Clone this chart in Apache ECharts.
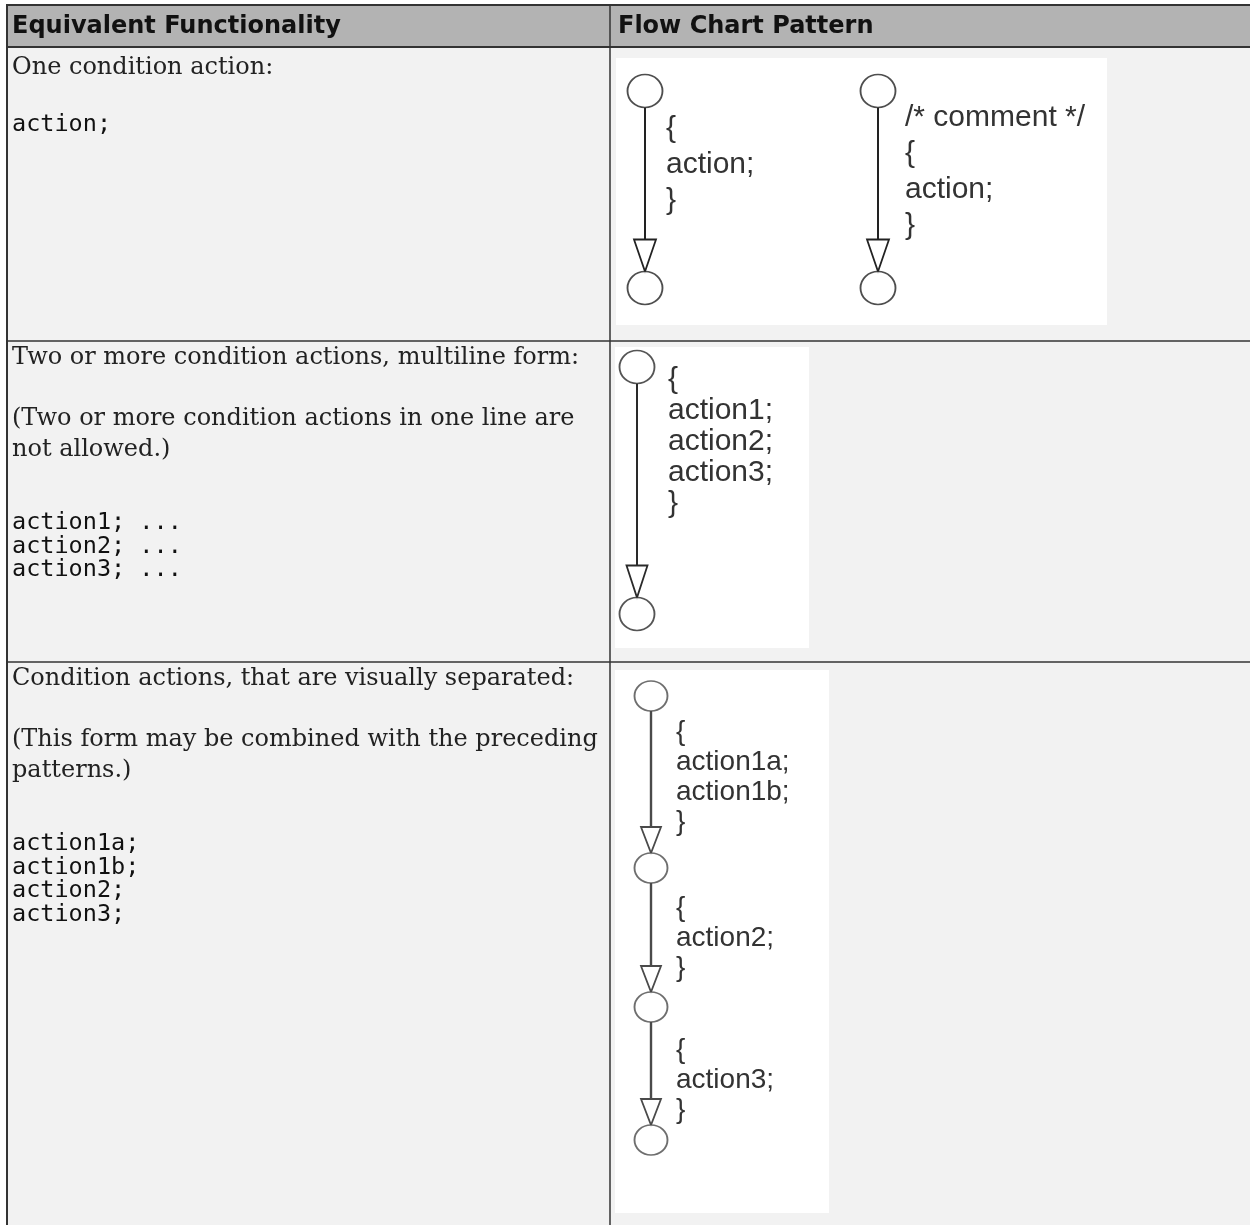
<!DOCTYPE html>
<html><head><meta charset="utf-8">
<script src="https://cdn.jsdelivr.net/npm/echarts@6/dist/echarts.min.js"></script>
<style>html,body{margin:0;padding:0;background:#fff}#c{width:1250px;height:1225px}</style>
</head><body><div id="c"></div>
<script>
// ---------- data ----------
const headers = ['Equivalent Functionality', 'Flow Chart Pattern'];
const descParagraphs = [
  [['One condition action:']],
  [['Two or more condition actions, multiline form:'], ['(Two or more condition actions in one line are', 'not allowed.)']],
  [['Condition actions, that are visually separated:'], ['(This form may be combined with the preceding', 'patterns.)']]
];
const codeLines = [
  ['action;'],
  ['action1; ...', 'action2; ...', 'action3; ...'],
  ['action1a;', 'action1b;', 'action2;', 'action3;']
];
const pattern1Plain = [['{', 'action;', '}']];
const pattern1Comment = [['/* comment */', '{', 'action;', '}']];
const pattern2Multi = [['{', 'action1;', 'action2;', 'action3;', '}']];
const pattern3Separated = [['{', 'action1a;', 'action1b;', '}'], ['{', 'action2;', '}'], ['{', 'action3;', '}']];

// ---------- layout (pixel space of the page) ----------
const W = 1250, H = 1225;
const T = {
  top: 5, left: 6, colX: 610, headerBottom: 47,
  rowBottoms: [341, 662, 1225],
  padX: 12, headerTextY: 27,
  firstLineOffset: [21, 17, 17], serifLine: 31, paraGap: 30, codeGap: [57, 73, 73], codeLine: 23.5
};
const FONT_HEAD = 'bold 24px "DejaVu Sans"';
const FONT_SERIF = '24px "DejaVu Serif"';
const FONT_MONO = '23.5px "DejaVu Sans Mono"';
const FLOW_FONT = '"Liberation Sans", Arial, sans-serif';
const flows = [
  {row: 0, box: [616, 58, 1107, 325], charts: [
    {segments: pattern1Plain, x: 645, nodes: [91, 288], textX: 666, textY: [129], pitch: 36, font: 30, circle: [35, 33], arrow: [22, 32], stroke: '#222', lw: 2},
    {segments: pattern1Comment, x: 878, nodes: [91, 288], textX: 905, textY: [118], pitch: 36, font: 30, circle: [35, 33], arrow: [22, 32], stroke: '#222', lw: 2}]},
  {row: 1, box: [615, 347, 809, 648], charts: [
    {segments: pattern2Multi, x: 637, nodes: [367, 614], textX: 668, textY: [380], pitch: 31, font: 30, circle: [35, 33], arrow: [21, 32], stroke: '#2a2a2a', lw: 2}]},
  {row: 2, box: [615, 670, 829, 1213], charts: [
    {segments: pattern3Separated, x: 651, nodes: [696, 868, 1007, 1140], textX: 676, textY: [732, 908, 1050], pitch: 30, font: 28, circle: [33, 30], arrow: [20, 26], stroke: '#4a4a4a', lw: 2.4}]}
];

// ---------- build primitives ----------
const rects = [];
const segs = [];
const texts = [];
const tris = [];
const nodes = [];

rects.push({v: [T.left, T.top, W, T.headerBottom], style: {fill: '#b3b3b3'}});
rects.push({v: [T.left, T.headerBottom, W, H], style: {fill: '#f2f2f2'}});
flows.forEach(f => rects.push({v: f.box, style: {fill: '#ffffff'}}));

const border = {stroke: '#333', lineWidth: 2};
const thin = {stroke: '#333', lineWidth: 1.5};
segs.push({v: [T.left, T.top, W, T.top], style: border});
segs.push({v: [T.left, T.headerBottom, W, T.headerBottom], style: border});
segs.push({v: [T.left + 1, T.top, T.left + 1, H], style: border});
segs.push({v: [T.colX, T.top, T.colX, H], style: thin});
T.rowBottoms.slice(0, -1).forEach(y => segs.push({v: [T.left, y, W, y], style: thin}));

headers.forEach((h, i) => texts.push({v: [i === 0 ? T.padX : T.colX + 8, T.headerTextY], text: h, font: FONT_HEAD, fill: '#111'}));

descParagraphs.forEach((paras, r) => {
  const top = r === 0 ? T.headerBottom : T.rowBottoms[r - 1];
  let y = top + T.firstLineOffset[r];
  let last = y;
  paras.forEach((lines, pi) => {
    lines.forEach(line => {
      texts.push({v: [T.padX, y], text: line, font: FONT_SERIF, fill: '#222'});
      last = y; y += T.serifLine;
    });
    if (pi < paras.length - 1) y += T.paraGap;
  });
  let cy = last + T.codeGap[r];
  codeLines[r].forEach(line => {
    texts.push({v: [T.padX, cy], text: line, font: FONT_MONO, fill: '#111'});
    cy += T.codeLine;
  });
});

flows.forEach(f => f.charts.forEach(c => {
  const [cw, ch] = c.circle, [aw, ah] = c.arrow;
  const st = {stroke: c.stroke, lineWidth: c.lw};
  c.nodes.forEach(y => nodes.push({value: [c.x, y], symbolSize: [cw, ch], itemStyle: {color: '#fff', borderColor: c.stroke, borderWidth: 1.8}}));
  c.segments.forEach((labels, i) => {
    const y0 = c.nodes[i] + ch / 2, tip = c.nodes[i + 1] - ch / 2;
    segs.push({v: [c.x, y0, c.x, tip - ah], style: st});
    tris.push({v: [c.x, tip - ah, aw, ah], style: {stroke: c.stroke, lineWidth: 1.8, fill: '#fff'}});
    labels.forEach((t, k) => texts.push({v: [c.textX, c.textY[i] + k * c.pitch], text: t, font: c.font + 'px ' + FLOW_FONT, fill: '#333'}));
  });
}));

// ---------- chart ----------
const chart = echarts.init(document.getElementById('c'), null, {renderer: 'canvas'});
function rectRender(params, api) {
  const a = api.coord([api.value(0), api.value(1)]), b = api.coord([api.value(2), api.value(3)]);
  return {type: 'rect', shape: {x: Math.min(a[0], b[0]), y: Math.min(a[1], b[1]), width: Math.abs(b[0] - a[0]), height: Math.abs(b[1] - a[1])}, style: rects[params.dataIndex].style};
}
function segRender(params, api) {
  const a = api.coord([api.value(0), api.value(1)]), b = api.coord([api.value(2), api.value(3)]);
  return {type: 'line', shape: {x1: a[0], y1: a[1], x2: b[0], y2: b[1]}, style: segs[params.dataIndex].style};
}
function triRender(params, api) {
  const top = api.coord([api.value(0), api.value(1)]);
  const tip = api.coord([api.value(0), api.value(1) + api.value(3)]);
  const hw = api.value(2) / 2;
  return {type: 'polygon', shape: {points: [[top[0] - hw, top[1]], [top[0] + hw, top[1]], [tip[0], tip[1]]]}, style: tris[params.dataIndex].style};
}
function textRender(params, api) {
  const p = api.coord([api.value(0), api.value(1)]);
  const t = texts[params.dataIndex];
  return {type: 'text', x: p[0], y: p[1], style: {text: t.text, font: t.font, fill: t.fill, align: 'left', verticalAlign: 'middle', textAlign: 'left', textVerticalAlign: 'middle'}};
}
chart.setOption({
  animation: false,
  grid: {left: 0, right: 0, top: 0, bottom: 0},
  xAxis: {type: 'value', min: 0, max: W, show: false},
  yAxis: {type: 'value', min: 0, max: H, inverse: true, show: false},
  series: [
    {type: 'custom', clip: false, renderItem: rectRender, data: rects.map(r => r.v), z: 1},
    {type: 'custom', clip: false, renderItem: segRender, data: segs.map(s => s.v), z: 2},
    {type: 'custom', clip: false, renderItem: triRender, data: tris.map(t => t.v), z: 3},
    {type: 'scatter', symbol: 'circle', data: nodes, z: 4, silent: true},
    {type: 'custom', clip: false, renderItem: textRender, data: texts.map(t => t.v), z: 5}
  ]
});
</script></body></html>
